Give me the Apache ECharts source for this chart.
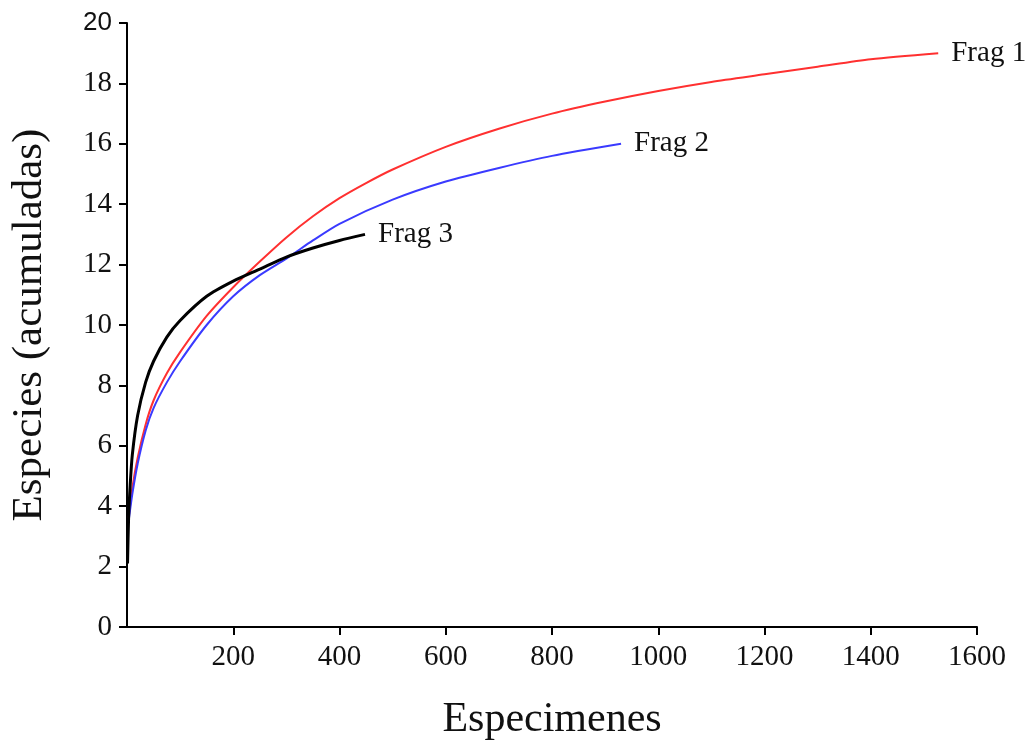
<!DOCTYPE html>
<html>
<head>
<meta charset="utf-8">
<script src="https://cdn.jsdelivr.net/npm/echarts@6/dist/echarts.min.js"></script>
<style>
  html, body { margin: 0; padding: 0; background: #fff; }
  #chart { width: 1033px; height: 746px; }
</style>
</head>
<body>
<div id="chart"></div>
<script>
// rarefaction curves
const frag1X = [3, 10, 20, 35, 50, 75, 100, 150, 200, 250, 300, 350, 400, 450, 500, 600, 700, 800, 900, 1000, 1100, 1200, 1300, 1400, 1527]
const frag1Y = [3.6, 4.6, 5.6, 6.7, 7.5, 8.4, 9.1, 10.3, 11.25, 12.1, 12.9, 13.6, 14.2, 14.7, 15.15, 15.9, 16.5, 17.0, 17.4, 17.75, 18.05, 18.3, 18.55, 18.8, 19.0]

const frag2X = [3, 10, 20, 35, 50, 75, 100, 150, 200, 250, 300, 350, 400, 500, 600, 700, 800, 930]
const frag2Y = [3.5, 4.4, 5.4, 6.5, 7.25, 8.1, 8.8, 10.0, 10.95, 11.65, 12.2, 12.8, 13.35, 14.15, 14.75, 15.2, 15.6, 16.0]

const frag3X = [1, 3, 6, 10, 20, 35, 50, 75, 100, 150, 200, 250, 300, 350, 400, 448]
const frag3Y = [2.1, 3.6, 4.7, 5.7, 7.0, 8.1, 8.8, 9.6, 10.15, 10.95, 11.45, 11.85, 12.25, 12.55, 12.8, 13.0]

const xTicks = [200, 400, 600, 800, 1000, 1200, 1400, 1600]

const serif = 'Liberation Serif'

function pairs(xs, ys) {
  return xs.map((x, i) => [x, ys[i]])
}

function curve(name, xs, ys, color, width) {
  return {
    name: name,
    type: 'line',
    data: pairs(xs, ys),
    smooth: 0.25,
    showSymbol: false,
    lineStyle: { color: color, width: width },
    endLabel: {
      show: true,
      formatter: '{a}',
      distance: 13,
      color: '#111',
      fontFamily: serif,
      fontSize: 29
    }
  }
}

const chart = echarts.init(document.getElementById('chart'))

chart.setOption({
  animation: false,
  grid: { left: 127, right: 56, top: 23, bottom: 113 },
  xAxis: {
    type: 'value',
    min: 0,
    max: 1600,
    interval: 200,
    name: 'Especimenes',
    nameLocation: 'middle',
    nameGap: 72,
    nameTextStyle: { fontFamily: serif, fontSize: 42, color: '#111' },
    splitLine: { show: false },
    axisLine: { lineStyle: { color: '#000', width: 2 } },
    axisTick: { length: 8, customValues: xTicks, lineStyle: { color: '#000', width: 2 } },
    axisLabel: {
      customValues: xTicks,
      margin: 16,
      fontFamily: serif,
      fontSize: 29,
      color: '#111',
      formatter: v => String(v)
    }
  },
  yAxis: {
    type: 'value',
    min: 0,
    max: 20,
    interval: 2,
    name: 'Especies (acumuladas)',
    nameLocation: 'middle',
    nameGap: 76,
    nameTextStyle: { fontFamily: serif, fontSize: 43, color: '#111' },
    splitLine: { show: false },
    axisLine: { show: true, lineStyle: { color: '#000', width: 2 } },
    axisTick: { show: true, length: 8, lineStyle: { color: '#000', width: 2 } },
    axisLabel: {
      margin: 15,
      fontFamily: serif,
      fontSize: 29,
      color: '#111',
      formatter: v => v === 20 ? '{s|20}' : String(v),
      rich: { s: { fontFamily: 'Liberation Sans', fontSize: 26, color: '#111' } }
    }
  },
  series: [
    curve('Frag 1', frag1X, frag1Y, '#ff3030', 2),
    curve('Frag 2', frag2X, frag2Y, '#3a3aff', 2),
    curve('Frag 3', frag3X, frag3Y, '#000', 3)
  ]
})
</script>
</body>
</html>
